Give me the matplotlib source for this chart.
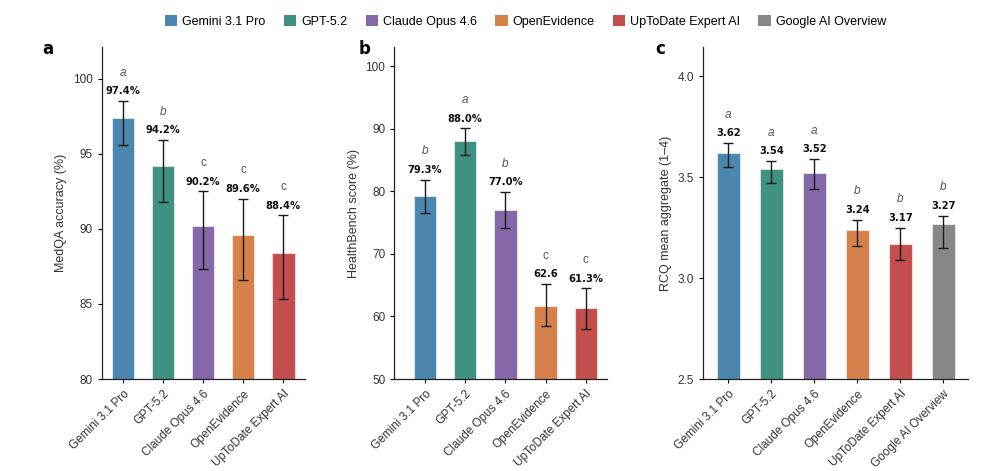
import matplotlib
matplotlib.use("Agg")
import matplotlib.pyplot as plt
from matplotlib.patches import Patch

plt.rcParams['font.family'] = ['Liberation Sans', 'DejaVu Sans']

# models and colours
models = ['Gemini 3.1 Pro', 'GPT-5.2', 'Claude Opus 4.6', 'OpenEvidence',
          'UpToDate Expert AI', 'Google AI Overview']
colors = ['#4a86ad', '#3f9180', '#8468aa', '#d6804a', '#c44e4e', '#878787']

# panel a: MedQA
medqa_vals = [97.4, 94.2, 90.2, 89.6, 88.4]
medqa_lo = [95.6, 91.8, 87.3, 86.6, 85.3]
medqa_hi = [98.5, 95.9, 92.5, 92.0, 90.9]
medqa_labels = ['97.4%', '94.2%', '90.2%', '89.6%', '88.4%']
medqa_groups = ['a', 'b', 'c', 'c', 'c']

# panel b: HealthBench
hb_vals = [79.3, 88.0, 77.0, 61.7, 61.3]
hb_lo = [76.5, 85.9, 74.1, 58.4, 58.0]
hb_hi = [81.9, 90.1, 79.9, 65.2, 64.5]
hb_labels = ['79.3%', '88.0%', '77.0%', '62.6', '61.3%']
hb_groups = ['b', 'a', 'b', 'c', 'c']

# panel c: RCQ
rcq_vals = [3.62, 3.54, 3.52, 3.24, 3.17, 3.27]
rcq_lo = [3.55, 3.47, 3.44, 3.16, 3.09, 3.15]
rcq_hi = [3.67, 3.58, 3.59, 3.29, 3.25, 3.31]
rcq_labels = ['3.62', '3.54', '3.52', '3.24', '3.17', '3.27']
rcq_groups = ['a', 'a', 'a', 'b', 'b', 'b']


def panel(ax, vals, lo, hi, labels, groups, ylim, yticks, ylabel, xlim, width):
    n = len(vals)
    x = list(range(n))
    yerr = [[v - l for v, l in zip(vals, lo)], [h - v for v, h in zip(vals, hi)]]
    ax.bar(x, vals, width=width, color=colors[:n], edgecolor=(1, 1, 1, 0.55),
           linewidth=0.8, zorder=2)
    ax.errorbar(x, vals, yerr=yerr, fmt='none', ecolor='#1a1a1a', elinewidth=1.0,
                capsize=3.5, capthick=1.0, zorder=3)
    for xi, h, lab, g in zip(x, hi, labels, groups):
        ax.annotate(lab, (xi, h), xytext=(0, 7), textcoords='offset points',
                    ha='center', va='center', fontsize=7.2, fontweight='bold',
                    family='DejaVu Sans', color='#111111')
        ax.annotate(g, (xi, h), xytext=(0, 20.5), textcoords='offset points',
                    ha='center', va='center', fontsize=8.5,
                    style='normal' if g == 'c' else 'italic', color='#555555')
    ax.set_ylim(*ylim)
    ax.set_xlim(*xlim)
    ax.set_yticks(yticks)
    ax.set_xticks(x)
    ax.set_xticklabels(models[:n], rotation=45, ha='right', rotation_mode='anchor',
                       fontsize=8.5, color='#333333')
    ax.tick_params(axis='y', labelsize=8.5, labelcolor='#333333', length=3, width=0.8)
    ax.tick_params(axis='x', length=3, width=0.8)
    ax.set_ylabel(ylabel, fontsize=9, color='#333333')
    for s in ['top', 'right']:
        ax.spines[s].set_visible(False)
    for s in ['left', 'bottom']:
        ax.spines[s].set_linewidth(0.9)
        ax.spines[s].set_color('#222222')


fig = plt.figure(figsize=(10.01, 4.71), dpi=100)
ax_a = fig.add_axes([0.1016, 0.1953, 0.2031, 0.7049])
ax_b = fig.add_axes([0.3939, 0.1953, 0.2122, 0.7049])
ax_c = fig.add_axes([0.7026, 0.1953, 0.2647, 0.7049])

panel(ax_a, medqa_vals, medqa_lo, medqa_hi, medqa_labels, medqa_groups,
      (80, 102.1), [80, 85, 90, 95, 100], 'MedQA accuracy (%)', (-0.53, 4.54), 0.56)
panel(ax_b, hb_vals, hb_lo, hb_hi, hb_labels, hb_groups,
      (50, 103.1), [50, 60, 70, 80, 90, 100], 'HealthBench score (%)', (-0.76, 4.52), 0.56)
panel(ax_c, rcq_vals, rcq_lo, rcq_hi, rcq_labels, rcq_groups,
      (2.5, 4.146), [2.5, 3.0, 3.5, 4.0], 'RCQ mean aggregate (1\u20134)', (-0.58, 5.58), 0.53)
ax_c.set_yticklabels(['2.5', '3.0', '3.5', '4.0'])

for lx, letter in [(0.042, 'a'), (0.358, 'b'), (0.655, 'c')]:
    fig.text(lx, 0.896, letter, fontsize=12, fontweight='bold',
             family='DejaVu Sans', va='center', ha='left')

handles = [Patch(facecolor=c, edgecolor='none', label=m) for c, m in zip(colors, models)]
fig.legend(handles=handles, loc='center', bbox_to_anchor=(0.525, 0.955), ncol=6,
           frameon=False, fontsize=9, handlelength=1.0, handleheight=1.0,
           handletextpad=0.4, columnspacing=1.45)

fig.savefig('out.png', dpi=100)
